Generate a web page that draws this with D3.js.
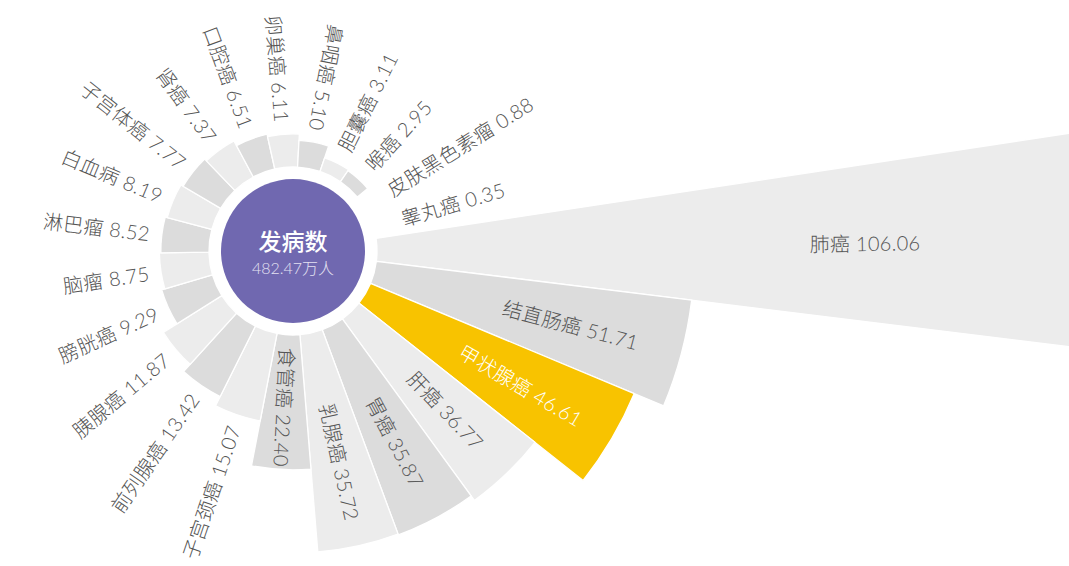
<!DOCTYPE html>
<html>
<head>
<meta charset="utf-8">
<script src="https://cdn.jsdelivr.net/npm/d3@7"></script>
<style>
  html, body { margin: 0; padding: 0; background: #ffffff; }
  svg { display: block; }
  text { font-family: "Lato", "Noto Sans CJK SC", sans-serif; }
</style>
</head>
<body>
<svg id="chart" width="1069" height="566"></svg>
<script>
// 癌症发病数（万人）
const categories = [
  "肺癌", "结直肠癌", "甲状腺癌", "肝癌", "胃癌", "乳腺癌", "食管癌",
  "子宫颈癌", "前列腺癌", "胰腺癌", "膀胱癌", "脑瘤", "淋巴瘤", "白血病",
  "子宫体癌", "肾癌", "口腔癌", "卵巢癌", "鼻咽癌", "胆囊癌", "喉癌",
  "皮肤黑色素瘤", "睾丸癌"
];
const values = [
  106.06, 51.71, 46.61, 36.77, 35.87, 35.72, 22.40,
  15.07, 13.42, 11.87, 9.29, 8.75, 8.52, 8.19,
  7.77, 7.37, 6.51, 6.11, 5.10, 3.11, 2.95,
  0.88, 0.35
];
const highlighted = "甲状腺癌";
const centerTitle = "发病数";
const centerTotal = "482.47万人";

const svg = d3.select("#chart");
const cx = 293, cy = 251;
const innerR = 84;
const n = categories.length;
const step = 2 * Math.PI / n;
const firstAngle = -0.8 * Math.PI / 180; // screen angle of the first bar's centre

// radial length; the longest bar runs off the right edge
const r = d3.scaleLinear()
  .domain([0, 52, d3.max(values)])
  .range([79, 403.5, 800]);

const colorLight = "#ececec", colorDark = "#dcdcdc", colorHi = "#f8c300";

// grey shades alternate over the non-highlighted bars
let k = 0;
const data = categories.map((name, i) => {
  const hi = name === highlighted;
  const color = hi ? colorHi : (k++ % 2 === 0 ? colorLight : colorDark);
  return { name, value: values[i], theta: firstAngle + i * step, color, hi };
});

const g = svg.append("g").attr("transform", `translate(${cx},${cy})`);

const arc = d3.arc()
  .innerRadius(innerR)
  .outerRadius(d => Math.max(innerR, r(d.value)))
  .startAngle(d => d.theta + Math.PI / 2 - step / 2)
  .endAngle(d => d.theta + Math.PI / 2 + step / 2);

g.selectAll("path.bar")
  .data(data)
  .join("path")
  .attr("class", "bar")
  .attr("d", arc)
  .attr("fill", d => d.color)
  .attr("stroke", "#ffffff")
  .attr("stroke-width", 1.3);

// labels along each bar's centre line
g.selectAll("text.lbl")
  .data(data)
  .join("text")
  .attr("class", "lbl")
  .each(function (d) {
    let deg = d.theta * 180 / Math.PI;
    if (deg > 180) deg -= 360;
    const outward = deg > -72 && deg < 100;
    const inside = d.value >= 20;
    const R = inside ? 0.715 * r(d.value) : Math.max(r(d.value) + 12, 113);
    const x = R * Math.cos(d.theta), y = R * Math.sin(d.theta);
    const rot = outward ? deg : deg - 180;
    d3.select(this)
      .attr("transform", `translate(${x},${y}) rotate(${rot})`)
      .attr("text-anchor", inside ? "middle" : (outward ? "start" : "end"))
      .attr("dominant-baseline", "central")
      .attr("font-size", 20)
      .attr("font-weight", 300)
      .attr("letter-spacing", 0.3)
      .attr("fill", d.hi ? "#ffffff" : "#555555")
      .text(`${d.name} ${d.value.toFixed(2)}`);
  });

// centre disc
g.append("circle").attr("r", 72).attr("fill", "#7068b0");
g.append("text")
  .attr("y", -10)
  .attr("text-anchor", "middle")
  .attr("dominant-baseline", "central")
  .attr("font-size", 23)
  .attr("font-weight", 500)
  .attr("fill", "#ffffff")
  .text(centerTitle);
g.append("text")
  .attr("y", 16)
  .attr("text-anchor", "middle")
  .attr("dominant-baseline", "central")
  .attr("font-size", 16)
  .attr("font-weight", 300)
  .attr("fill", "#e4e2f2")
  .text(centerTotal);
</script>
</body>
</html>
